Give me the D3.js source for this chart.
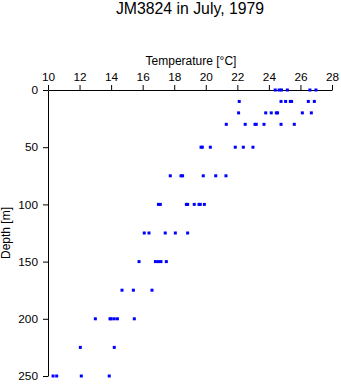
<!DOCTYPE html>
<html>
<head>
<meta charset="utf-8">
<script src="https://cdn.jsdelivr.net/npm/d3@7"></script>
<style>
  html, body { margin: 0; padding: 0; background: #fff; }
  svg { display: block; }
  text { font-family: "Liberation Sans", Arial, Helvetica, sans-serif; fill: #000; }
</style>
</head>
<body>
<svg id="chart" width="341" height="384"></svg>
<script>
const title = "JM3824 in July, 1979";
const xLabel = "Temperature [\u00B0C]";
const yLabel = "Depth [m]";
const xTicks = [10, 12, 14, 16, 18, 20, 22, 24, 26, 28];
const yTicks = [0, 50, 100, 150, 200, 250];
const depths = [0, 10, 20, 30, 50, 75, 100, 125, 150, 175, 200, 225, 250];
const temps = [
  [24.4, 24.65, 24.8, 25.17, 26.6, 26.98],
  [22.12, 24.77, 25.06, 25.36, 25.44, 26.5, 26.88],
  [22.08, 23.8, 24.15, 24.47, 24.55, 26.12, 26.69],
  [21.3, 22.5, 23.12, 23.2, 23.69, 24.77, 25.61],
  [19.7, 19.78, 20.29, 21.87, 22.38, 22.99],
  [17.75, 18.43, 18.53, 19.84, 20.63, 21.28],
  [17.0, 17.12, 18.77, 18.85, 19.27, 19.57, 19.65, 19.91],
  [16.1, 16.4, 17.43, 18.07, 18.85],
  [15.77, 16.81, 17.0, 17.16, 17.5],
  [14.69, 15.41, 16.59],
  [13.0, 13.93, 14.01, 14.2, 14.4, 15.47],
  [12.05, 14.2],
  [10.32, 10.55, 12.11, 13.88]
];

const svg = d3.select("#chart");
const x = d3.scaleLinear().domain([10, 28]).range([48, 332]);
const y = d3.scaleLinear().domain([0, 250]).range([90, 376]);

svg.append("text")
  .attr("x", 190).attr("y", 14)
  .attr("text-anchor", "middle")
  .attr("font-size", 15.8)
  .text(title);

const xAxis = svg.append("g")
  .attr("transform", `translate(0,${y(0)})`)
  .call(d3.axisTop(x).tickValues(xTicks).tickSize(5).tickSizeOuter(0).tickPadding(4).tickFormat(d3.format("d")));

const yAxis = svg.append("g")
  .attr("transform", `translate(${x(10)},0)`)
  .call(d3.axisLeft(y).tickValues(yTicks).tickSize(5).tickSizeOuter(0).tickPadding(5).tickFormat(d3.format("d")));

[xAxis, yAxis].forEach(g => {
  g.selectAll("text").attr("font-size", 11.8).attr("font-family", '"Liberation Sans", Arial, sans-serif').attr("fill", "#000");
  g.selectAll("line, path").attr("stroke", "#000").attr("stroke-width", 1);
});

svg.append("text")
  .attr("x", 191).attr("y", 65)
  .attr("text-anchor", "middle")
  .attr("font-size", 12)
  .text(xLabel);

svg.append("text")
  .attr("transform", `translate(10,${(y(0) + y(250)) / 2}) rotate(-90)`)
  .attr("text-anchor", "middle")
  .attr("font-size", 12)
  .text(yLabel);

const pts = [];
depths.forEach((d, i) => temps[i].forEach(t => pts.push({ d, t })));

svg.append("g").selectAll("rect")
  .data(pts)
  .join("rect")
  .attr("x", p => x(p.t) - 1.5)
  .attr("y", p => y(p.d) - 1.5)
  .attr("width", 3)
  .attr("height", 3)
  .attr("fill", "#0000ff");
</script>
</body>
</html>
